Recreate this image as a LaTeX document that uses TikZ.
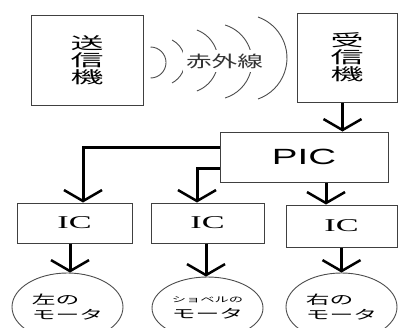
\documentclass[tikz,border=0pt]{standalone}
\usepackage{fontspec}
\usetikzlibrary{arrows.meta,shapes.geometric}
\newfontfamily\jpbig[FakeStretch=2.0]{Noto Sans CJK JP}
\newfontfamily\jpmid[FakeStretch=1.6]{Noto Sans CJK JP}
\newfontfamily\jpmot[FakeStretch=1.9]{Noto Sans CJK JP}
\newfontfamily\picfont[FakeStretch=1.75]{Liberation Sans}
\newfontfamily\icfont[FakeStretch=1.9]{Liberation Serif}
\begin{document}
\begin{tikzpicture}[x=1pt,y=-1pt,
  box/.style={draw=black!75,line width=1pt,inner sep=0pt},
  bigjp/.style={align=center,font=\jpbig\fontsize{16.5}{17}\selectfont},
  icbox/.style={box,minimum height=40pt,font=\icfont\fontsize{18}{18}\selectfont},
  conn/.style={line width=3pt,-{Straight Barb[length=11pt,width=38pt,line width=2.5pt]}},
  motor/.style={ellipse,draw=black!70,line width=0.9pt,minimum width=111pt,minimum height=68pt,inner sep=0pt,align=left,font=\jpmot\fontsize{12.5}{15.5}\selectfont},
  wave/.style={draw=black!70,line width=0.9pt}]
\useasboundingbox (0,0) rectangle (398,327);
\clip (0,0) rectangle (398,327);

% boxes
\node[box,bigjp,minimum width=112pt,minimum height=90pt] (tx) at (87,60) {送\\信\\機};
\node[box,bigjp,minimum width=100pt,minimum height=89pt] (rx) at (347,57.5) {受\\信\\機};
\node[box,minimum width=168pt,minimum height=50pt,font=\picfont\fontsize{22}{22}\selectfont] (pic) at (304,157) {PIC};
\node[icbox,minimum width=115pt] (ic1) at (74.5,223) {IC};
\node[icbox,minimum width=113pt] (ic2) at (207.5,223) {IC};
\node[icbox,minimum width=111pt,minimum height=42pt] (ic3) at (341.5,226) {IC};

% motors
\node[motor] (m1) at (67.5,307) {左の\\モータ};
\node[motor,minimum height=62pt] (m2) at (207.5,308) {{\fontsize{7.5}{9}\selectfont ショベルの}\\モータ};
\node[motor] (m3) at (341.5,307) {右の\\モータ};

% infrared waves
\draw[wave] (150.5,47) arc[start angle=90,end angle=-90,radius=15.5pt];
\draw[wave] (172.1,40.0) arc[start angle=62,end angle=-62,radius=24.3pt];
\draw[wave] (196.9,30.0) arc[start angle=69.3,end angle=-69.3,radius=32.6pt];
\draw[wave] (225.1,25.0) arc[start angle=72.8,end angle=-72.8,radius=38.2pt];
\draw[wave] (258.0,17.0) arc[start angle=70.5,end angle=-70.5,radius=43.5pt];
\node[fill=white,inner xsep=3pt,inner ysep=0pt,minimum height=22pt,text=black!80,font=\jpmid\fontsize{16}{16}\selectfont] (ir) at (224.5,61) {赤外線};

% connectors
\draw[conn] ([xshift=-4.5pt]rx.south) -- ([xshift=-4.5pt]rx.south |- pic.north);
\draw[conn] ([yshift=10pt]pic.west) -| ([xshift=8.5pt]ic1.north);
\draw[conn] ([yshift=-11pt]pic.west) -| ([xshift=-10.5pt]ic2.north);
\draw[conn] ([xshift=22pt]pic.south) -- ([xshift=22pt]pic.south |- ic3.north);
\draw[conn] ([xshift=-4.5pt]ic1.south) -- ([xshift=-4.5pt]ic1.south |- m1.north);
\draw[conn] ([xshift=-1.5pt]ic2.south) -- ([xshift=-1.5pt]ic2.south |- m2.north);
\draw[conn] (ic3.south) -- (m3.north);
\end{tikzpicture}
\end{document}
